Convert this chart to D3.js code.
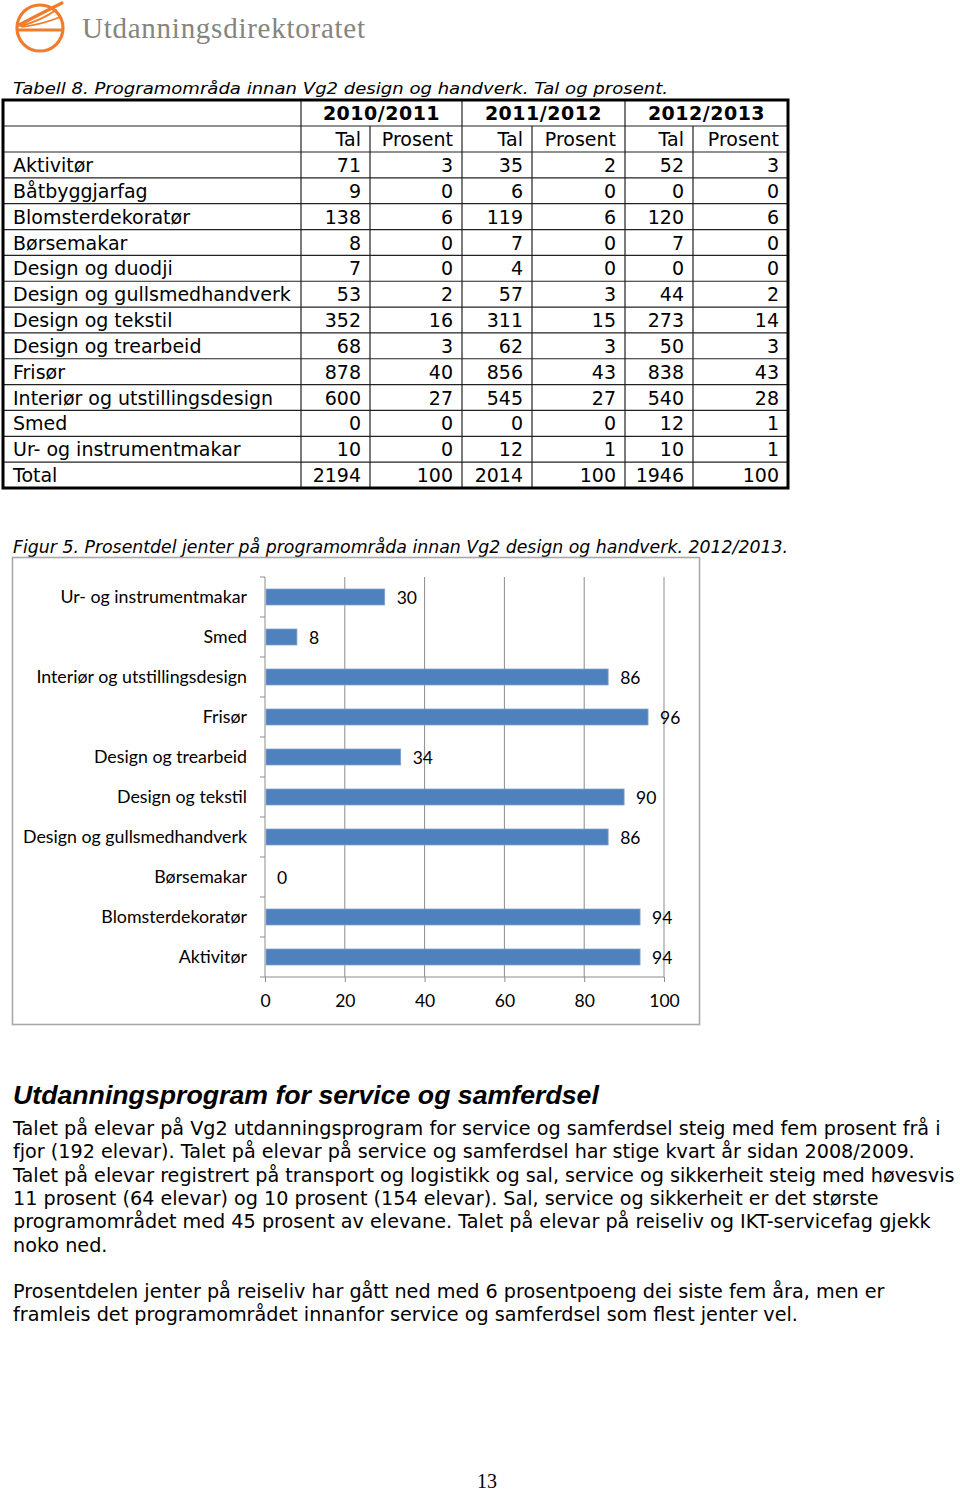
<!DOCTYPE html>
<html>
<head>
<meta charset="utf-8">
<script src="https://cdn.jsdelivr.net/npm/d3@7"></script>
<style>
  body { margin: 0; background: #fff; }
  svg { display: block; }
</style>
</head>
<body>
<div class="page"></div>
<script>
//Data
var years = ["2010/2011", "2011/2012", "2012/2013"];
var subHeads = ["Tal", "Prosent"];
var tableNames = ["Aktivitør", "Båtbyggjarfag", "Blomsterdekoratør", "Børsemakar", "Design og duodji",
  "Design og gullsmedhandverk", "Design og tekstil", "Design og trearbeid", "Frisør",
  "Interiør og utstillingsdesign", "Smed", "Ur- og instrumentmakar", "Total"];
var tal2011 = [71, 9, 138, 8, 7, 53, 352, 68, 878, 600, 0, 10, 2194];
var pst2011 = [3, 0, 6, 0, 0, 2, 16, 3, 40, 27, 0, 0, 100];
var tal2012 = [35, 6, 119, 7, 4, 57, 311, 62, 856, 545, 0, 12, 2014];
var pst2012 = [2, 0, 6, 0, 0, 3, 15, 3, 43, 27, 0, 1, 100];
var tal2013 = [52, 0, 120, 7, 0, 44, 273, 50, 838, 540, 12, 10, 1946];
var pst2013 = [3, 0, 6, 0, 0, 2, 14, 3, 43, 28, 1, 1, 100];

var chartCats = ["Ur- og instrumentmakar", "Smed", "Interiør og utstillingsdesign", "Frisør",
  "Design og trearbeid", "Design og tekstil", "Design og gullsmedhandverk", "Børsemakar",
  "Blomsterdekoratør", "Aktivitør"];
var chartVals = [30, 8, 86, 96, 34, 90, 86, 0, 94, 94];
var xTicks = [0, 20, 40, 60, 80, 100];

var bodyLines = [
  "Talet på elevar på Vg2 utdanningsprogram for service og samferdsel steig med fem prosent frå i",
  "fjor (192 elevar). Talet på elevar på service og samferdsel har stige kvart år sidan 2008/2009.",
  "Talet på elevar registrert på transport og logistikk og sal, service og sikkerheit steig med høvesvis",
  "11 prosent (64 elevar) og 10 prosent (154 elevar). Sal, service og sikkerheit er det største",
  "programområdet med 45 prosent av elevane. Talet på elevar på reiseliv og IKT-servicefag gjekk",
  "noko ned.",
  "",
  "Prosentdelen jenter på reiseliv har gått ned med 6 prosentpoeng dei siste fem åra, men er",
  "framleis det programområdet innanfor service og samferdsel som flest jenter vel."
];

//Config
var width = 960,
    height = 1492,
    tableFont = "'DejaVu Sans', Verdana, sans-serif",
    chartFont = "Lato, 'Open Sans', sans-serif",
    barColor = "#4f81bd";

var svg = d3.select(".page")
  .append("svg")
  .attr("width", width)
  .attr("height", height);

//Logo
var logo = svg.append("g")
  .attr("fill", "none")
  .attr("stroke", "#ef7d2d")
  .attr("stroke-width", 3.2)
  .attr("stroke-linecap", "round");

logo.append("circle").attr("cx", 40).attr("cy", 28).attr("r", 23);
logo.append("line").attr("x1", 18).attr("y1", 30).attr("x2", 62).attr("y2", 30);
logo.append("path").attr("d", "M19,25 Q40,14 62,3");
logo.append("path").attr("d", "M21,26 Q42,20 56,10").attr("stroke-width", 2);
logo.append("path").attr("d", "M22,27 Q44,24 60,17").attr("stroke-width", 1.6);

svg.append("text")
  .attr("x", 82)
  .attr("y", 38)
  .attr("textLength", 283)
  .style("font-family", "'Liberation Serif', serif")
  .style("font-size", "29px")
  .style("fill", "#858580")
  .text("Utdanningsdirektoratet");

//Table caption
svg.append("text")
  .attr("x", 13)
  .attr("y", 94)
  .attr("textLength", 655)
  .attr("lengthAdjust", "spacingAndGlyphs")
  .style("font-family", tableFont)
  .style("font-style", "italic")
  .style("font-size", "16.5px")
  .text("Tabell 8. Programområda innan Vg2 design og handverk. Tal og prosent.");

//Table
var colEdges = [3, 301, 370, 462, 532, 625, 693, 788];
var tableTop = 100,
    headH = 26,
    rowH = (488 - tableTop - 2 * headH) / tableNames.length;

var cols = [tal2011, pst2011, tal2012, pst2012, tal2013, pst2013];
var tableRows = tableNames.map(function (name, i) {
  return { name: name, values: cols.map(function (c) { return c[i]; }) };
});

var rowY = d3.scaleLinear()
  .domain([0, tableNames.length])
  .range([tableTop + 2 * headH, tableTop + 2 * headH + tableNames.length * rowH]);

var gTable = svg.append("g")
  .style("font-family", tableFont)
  .style("font-size", "19px")
  .style("fill", "#000");

//inner grid lines
var hLines = [tableTop + headH].concat(d3.range(0, tableNames.length).map(function (i) { return rowY(i); }));
gTable.selectAll(".hline")
  .data(hLines)
  .enter()
  .append("line")
  .attr("x1", colEdges[0])
  .attr("x2", colEdges[7])
  .attr("y1", function (d) { return d; })
  .attr("y2", function (d) { return d; })
  .attr("stroke", "#222")
  .attr("stroke-width", 1.2);

gTable.selectAll(".vline")
  .data(colEdges.slice(1, 7))
  .enter()
  .append("line")
  .attr("x1", function (d) { return d; })
  .attr("x2", function (d) { return d; })
  .attr("y1", function (d, i) { return i % 2 === 1 ? tableTop + headH : tableTop; })
  .attr("y2", rowY(tableNames.length))
  .attr("stroke", "#222")
  .attr("stroke-width", 1.2);

gTable.append("rect")
  .attr("x", colEdges[0])
  .attr("y", tableTop)
  .attr("width", colEdges[7] - colEdges[0])
  .attr("height", rowY(tableNames.length) - tableTop)
  .attr("fill", "none")
  .attr("stroke", "#000")
  .attr("stroke-width", 3);

//headers
gTable.selectAll(".year")
  .data(years)
  .enter()
  .append("text")
  .attr("x", function (d, i) { return (colEdges[1 + 2 * i] + colEdges[3 + 2 * i]) / 2; })
  .attr("y", tableTop + 20)
  .attr("text-anchor", "middle")
  .style("font-weight", "bold")
  .style("letter-spacing", "0.5px")
  .text(function (d) { return d; });

gTable.selectAll(".sub")
  .data(d3.range(6))
  .enter()
  .append("text")
  .attr("x", function (i) { return colEdges[i + 2] - 9; })
  .attr("y", tableTop + headH + 20)
  .attr("text-anchor", "end")
  .text(function (i) { return subHeads[i % 2]; });

var rowsG = gTable.selectAll(".trow")
  .data(tableRows)
  .enter()
  .append("g")
  .attr("transform", function (d, i) { return "translate(0," + (rowY(i) + 20) + ")"; });

rowsG.append("text")
  .attr("x", 13)
  .text(function (d) { return d.name; });

rowsG.selectAll(".num")
  .data(function (d) { return d.values; })
  .enter()
  .append("text")
  .attr("x", function (d, i) { return colEdges[i + 2] - 9; })
  .attr("text-anchor", "end")
  .text(function (d) { return d; });

//Figure caption
svg.append("text")
  .attr("x", 13)
  .attr("y", 553)
  .attr("textLength", 775)
  .attr("lengthAdjust", "spacingAndGlyphs")
  .style("font-family", tableFont)
  .style("font-style", "italic")
  .style("font-size", "17px")
  .text("Figur 5. Prosentdel jenter på programområda innan Vg2 design og handverk. 2012/2013.");

//Chart
svg.append("rect")
  .attr("x", 12.5)
  .attr("y", 557.5)
  .attr("width", 687)
  .attr("height", 467)
  .attr("fill", "#fff")
  .attr("stroke", "#a9a9a9")
  .attr("stroke-width", 1.6);

var x = d3.scaleLinear()
  .domain([0, 100])
  .range([265, 664]);

var y = d3.scaleBand()
  .domain(chartCats)
  .range([577, 977])
  .paddingInner(0.6)
  .paddingOuter(0.3);

var chart = svg.append("g")
  .style("font-family", chartFont);

//gridlines
chart.selectAll(".grid")
  .data(xTicks.slice(1))
  .enter()
  .append("line")
  .attr("x1", function (d) { return x(d); })
  .attr("x2", function (d) { return x(d); })
  .attr("y1", 577)
  .attr("y2", 977)
  .attr("stroke", "#8c8c8c")
  .attr("stroke-width", 1);

//x axis
var xAxis = chart.append("g")
  .attr("transform", "translate(0,977)")
  .call(d3.axisBottom(x).tickValues(xTicks).tickSize(5).tickPadding(6));
xAxis.select(".domain").attr("stroke", "#8c8c8c").attr("d", "M" + (x(0) - 5) + ",0H" + x(100));
xAxis.selectAll(".tick line").attr("stroke", "#8c8c8c");
xAxis.selectAll(".tick text")
  .attr("fill", "#000")
  .attr("dy", "1.1em")
  .style("font-family", chartFont)
  .style("font-size", "17.5px");

//y axis
chart.append("line")
  .attr("x1", x(0))
  .attr("x2", x(0))
  .attr("y1", 577)
  .attr("y2", 977)
  .attr("stroke", "#8c8c8c");

chart.selectAll(".ytick")
  .data(d3.range(chartCats.length))
  .enter()
  .append("line")
  .attr("x1", x(0) - 5)
  .attr("x2", x(0))
  .attr("y1", function (i) { return 577 + i * y.step(); })
  .attr("y2", function (i) { return 577 + i * y.step(); })
  .attr("stroke", "#8c8c8c");

chart.selectAll(".cat")
  .data(chartCats)
  .enter()
  .append("text")
  .attr("x", 247)
  .attr("y", function (d) { return y(d) + y.bandwidth() / 2 + 6; })
  .attr("text-anchor", "end")
  .style("font-size", "17.8px")
  .text(function (d) { return d; });

//bars
chart.selectAll(".bar")
  .data(chartVals)
  .enter()
  .append("rect")
  .attr("x", x(0) + 1)
  .attr("y", function (d, i) { return y(chartCats[i]); })
  .attr("width", function (d) { return Math.max(0, x(d) - x(0) - 1); })
  .attr("height", y.bandwidth())
  .attr("fill", barColor)
  .attr("stroke", "#7ea3d0")
  .attr("stroke-width", function (d) { return d > 0 ? 0.8 : 0; });

chart.selectAll(".val")
  .data(chartVals)
  .enter()
  .append("text")
  .attr("x", function (d) { return x(d) + 12; })
  .attr("y", function (d, i) { return y(chartCats[i]) + y.bandwidth() / 2 + 7; })
  .style("font-size", "17.5px")
  .text(function (d) { return d; });

//Heading and body text
svg.append("text")
  .attr("x", 13)
  .attr("y", 1104)
  .style("font-family", "'Liberation Sans', Arial, sans-serif")
  .style("font-weight", "bold")
  .style("font-style", "italic")
  .style("font-size", "26.7px")
  .text("Utdanningsprogram for service og samferdsel");

svg.selectAll(".body")
  .data(bodyLines)
  .enter()
  .append("text")
  .attr("x", 13)
  .attr("y", function (d, i) { return 1135 + i * 23.3; })
  .style("font-family", tableFont)
  .style("font-size", "19.2px")
  .text(function (d) { return d; });

//Page number
svg.append("text")
  .attr("x", 487)
  .attr("y", 1488)
  .attr("text-anchor", "middle")
  .style("font-family", "'Liberation Serif', serif")
  .style("font-size", "20px")
  .text("13");
</script>
</body>
</html>
